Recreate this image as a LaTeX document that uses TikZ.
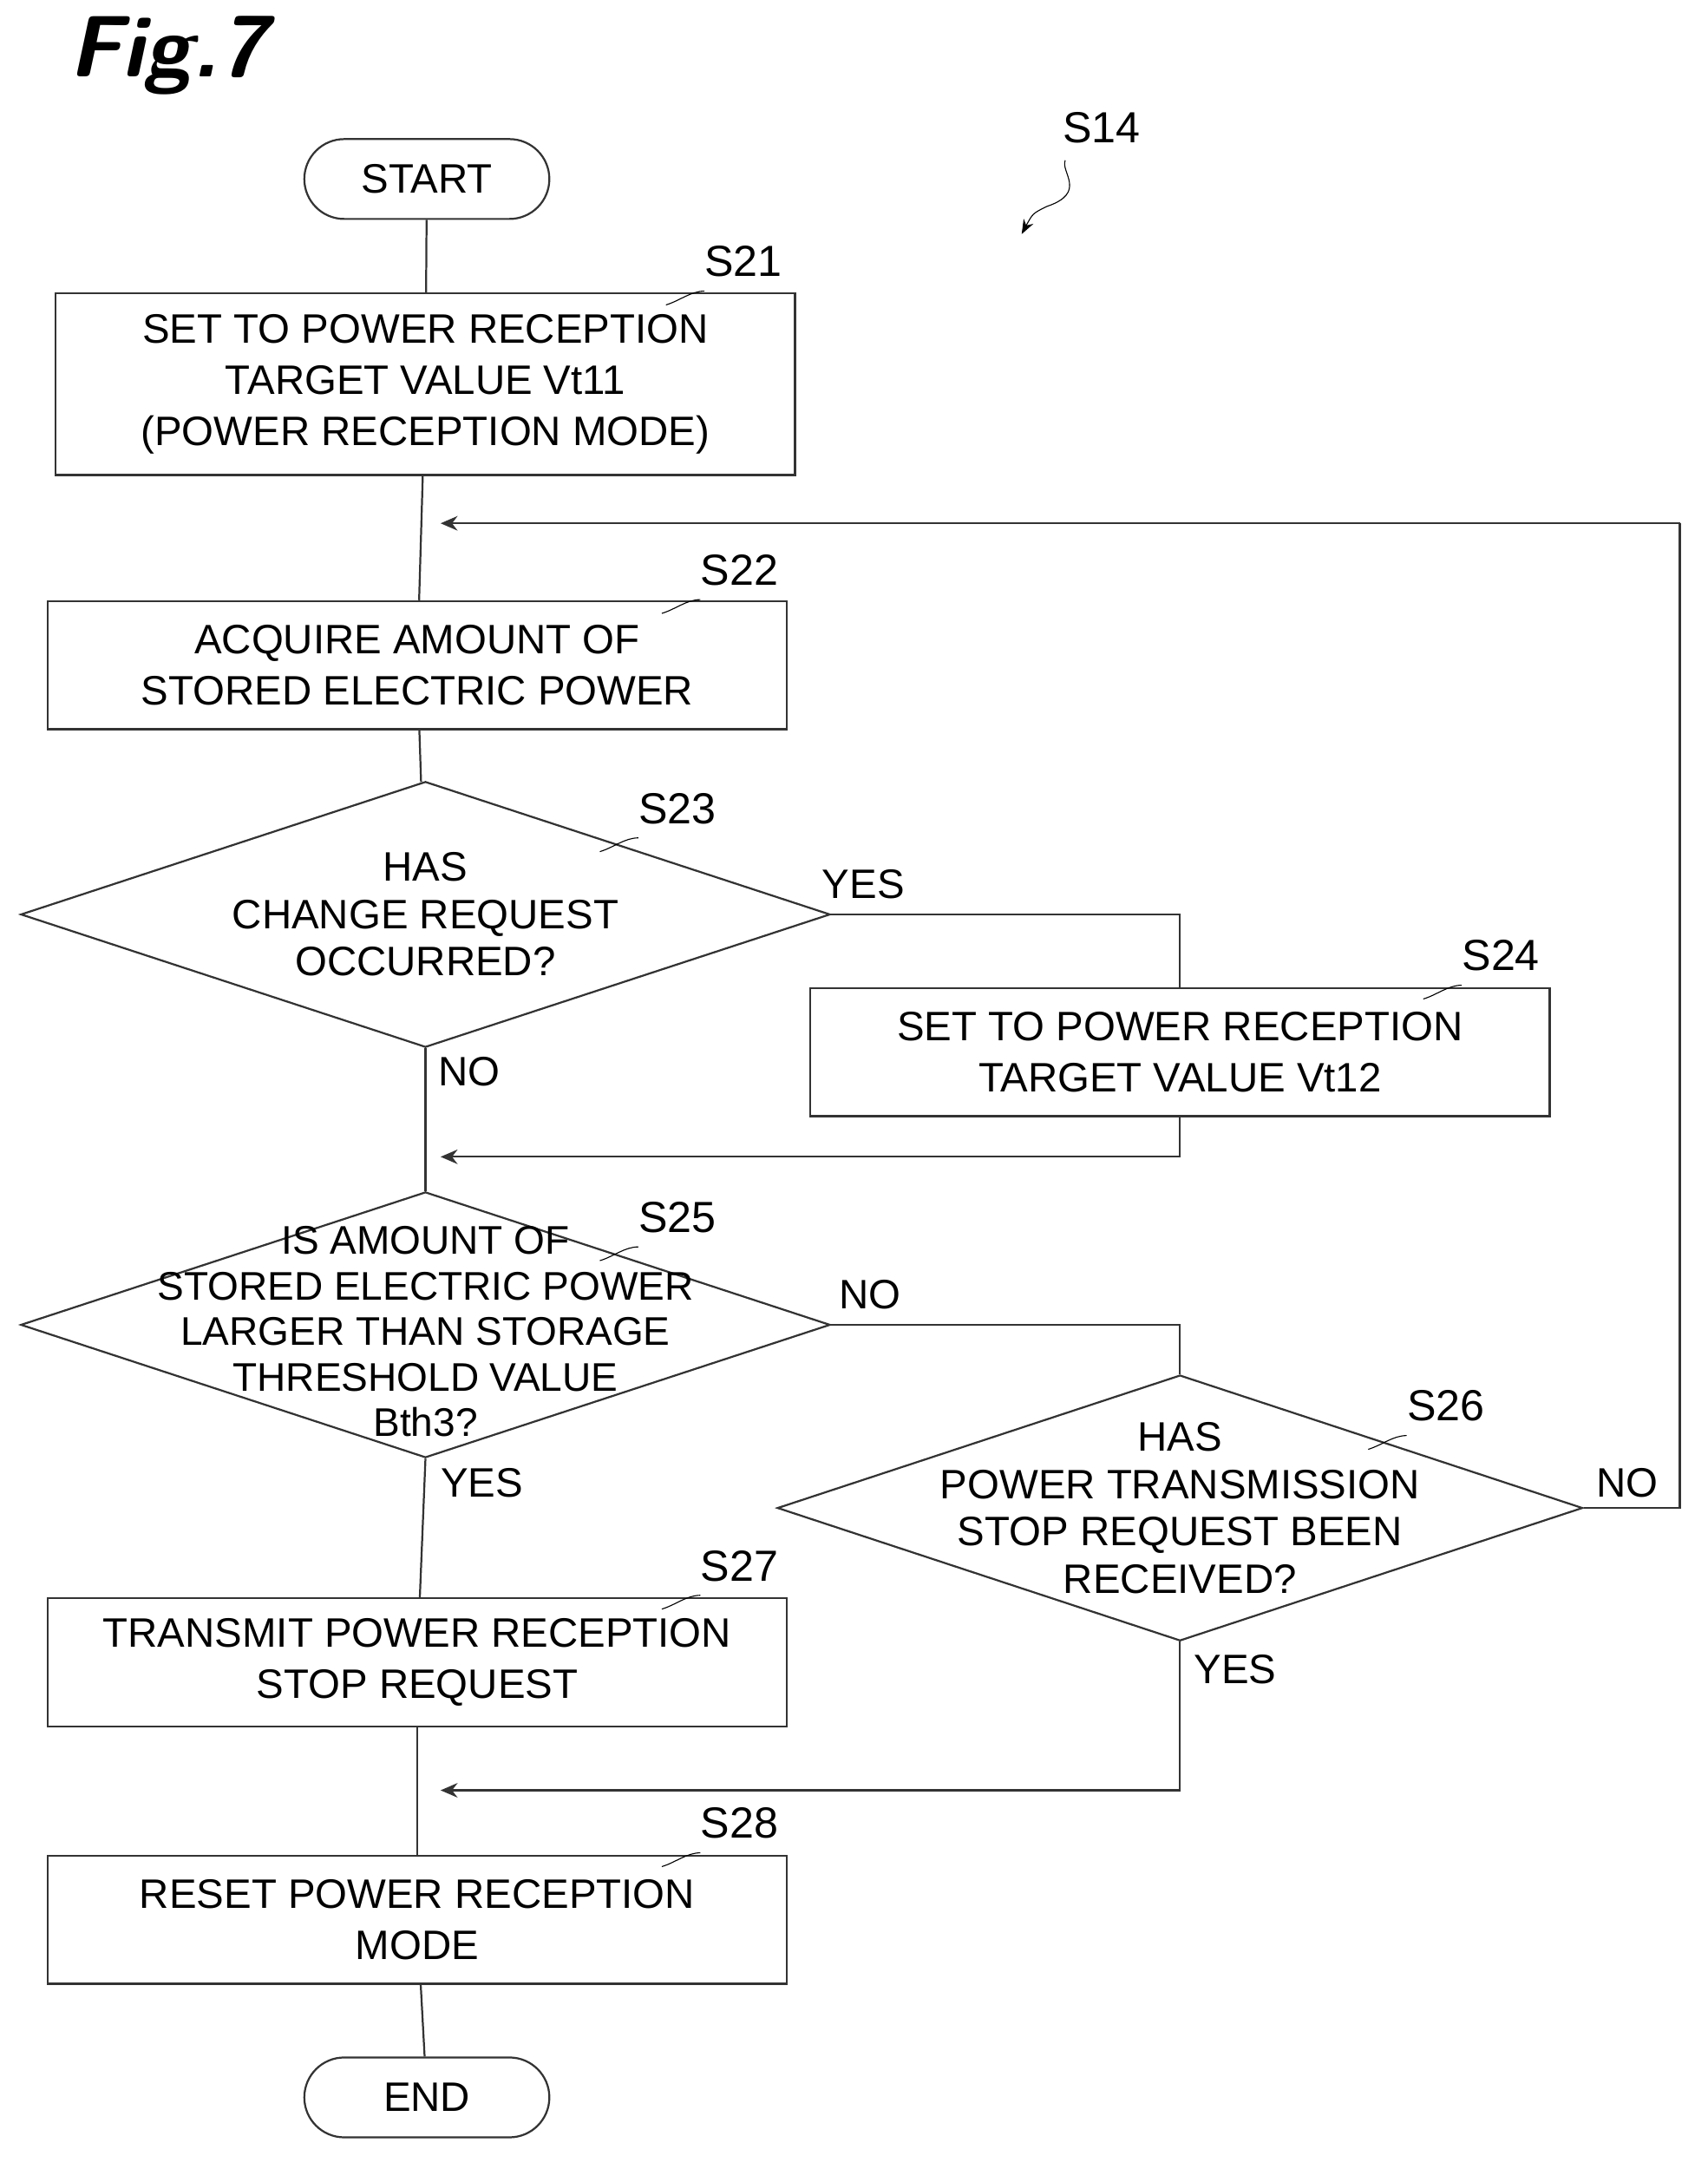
\documentclass[tikz,border=0pt]{standalone}
\usepackage{fontspec}
\setmainfont{Liberation Sans}
\usetikzlibrary{shapes.geometric,arrows.meta,positioning}

\begin{document}
\begin{tikzpicture}
	[x=0.02cm,y=-0.02cm,
	line/.style={draw=black!80,thick},
	box/.style={rectangle,line,minimum width=10.74cm,minimum height=1.86cm,align=center,font=\fontsize{17}{21}\selectfont},
	term/.style={rectangle,rounded corners=0.58cm,line,minimum width=3.56cm,minimum height=1.16cm,font=\fontsize{17}{21}\selectfont},
	dia/.style={diamond,line,minimum width=11.76cm,minimum height=3.86cm,inner sep=0pt},
	diatext/.style={align=center,font=\fontsize{16.5}{18.8}\selectfont},
	lbl/.style={font=\fontsize{17}{21}\selectfont},
	steplbl/.style={font=\fontsize{18}{22}\selectfont},
	merge/.style={-{Stealth[length=7pt,width=6pt]}},
	]
	\useasboundingbox (0,0) rectangle (1240,1575);
	% title
	\node (fig) at (122,40) {\fontsize{36}{40}\selectfont\bfseries\itshape\sffamily Fig.7};
	\node[steplbl] (s14) at (800,93) {S14};
	\coordinate (s14tip) at (742,170);
	\draw[thin,-{Stealth[length=6pt]}] (s14.south west) ++(8,6) .. controls (770,125) and (790,140) .. (760,150) .. controls (750,155) .. (s14tip);
	% nodes
	\node[term] (start) at (310,130) {START};
	\node[box,minimum height=2.64cm] (s21) at (309,279) {SET TO POWER RECEPTION\\TARGET VALUE Vt11\\(POWER RECEPTION MODE)};
	\node[box] (s22) at (303,483) {ACQUIRE AMOUNT OF\\STORED ELECTRIC POWER};
	\node[dia] (s23) at (309,664) {};
	\node[diatext,font=\fontsize{17}{19.5}\selectfont] (t23) at (s23) {HAS\\CHANGE REQUEST\\OCCURRED?};
	\node[box] (s24) at (857,764) {SET TO POWER RECEPTION\\TARGET VALUE Vt12};
	\node[dia] (s25) at (309,962) {};
	\node[diatext] (t25) at ([yshift=-0.1cm]s25) {IS AMOUNT OF\\STORED ELECTRIC POWER\\LARGER THAN STORAGE\\THRESHOLD VALUE\\Bth3?};
	\node[dia,minimum width=11.7cm] (s26) at (857,1095) {};
	\node[diatext,font=\fontsize{17}{19.5}\selectfont] (t26) at (s26) {HAS\\POWER TRANSMISSION\\STOP REQUEST BEEN\\RECEIVED?};
	\node[box] (s27) at (303,1207) {TRANSMIT POWER RECEPTION\\STOP REQUEST};
	\node[box] (s28) at (303,1394) {RESET POWER RECEPTION\\MODE};
	\node[term] (end) at (310,1523) {END};
	% step labels
	\foreach \n/\x/\y in {s21/540/190,s22/537/414,s23/492/587,s24/1090/694,s25/492/884,s26/1050/1021,s27/537/1137,s28/537/1324}
		{\node[steplbl] (l\n) at (\x,\y) {\MakeUppercase{\n}};
		 \draw[thin] (l\n.south west) ++(6,4) .. controls +(-10,0) and +(10,-3) .. ++(-28,10);}
	% junction points
	\coordinate (loop) at (310,380);
	\coordinate (loopr) at (1220,380);
	\coordinate (j24) at (310,840);
	\coordinate (j28) at (310,1300);
	% connectors
	\draw[line] (start) -- (s21);
	\draw[line] (s21) -- (s22);
	\draw[line] (s22) -- (s23);
	\draw[line] (s23.south) -- (s25.north);
	\draw[line] (s23.east) -| (s24.north);
	\draw[line,merge] (s24.south) |- ([xshift=0.2cm]j24);
	\draw[line] (s25.east) -| (s26.north);
	\draw[line] (s25.south) -- (s27);
	\draw[line] (s27) -- (s28);
	\draw[line] (s28) -- (end);
	\draw[line,merge] (s26.south) |- ([xshift=0.2cm]j28);
	\draw[line] (s26.east) -- (1220,1095) -- (loopr);
	\draw[line,merge] (loopr) -- ([xshift=0.2cm]loop);
	% branch labels
	\node[lbl] (y23) at (627,642) {YES};
	\node[lbl] (n23) at (341,778) {NO};
	\node[lbl] (n25) at (632,940) {NO};
	\node[lbl] (y25) at (350,1077) {YES};
	\node[lbl] (n26) at (1182,1077) {NO};
	\node[lbl] (y26) at (897,1212) {YES};
\end{tikzpicture}
\end{document}
